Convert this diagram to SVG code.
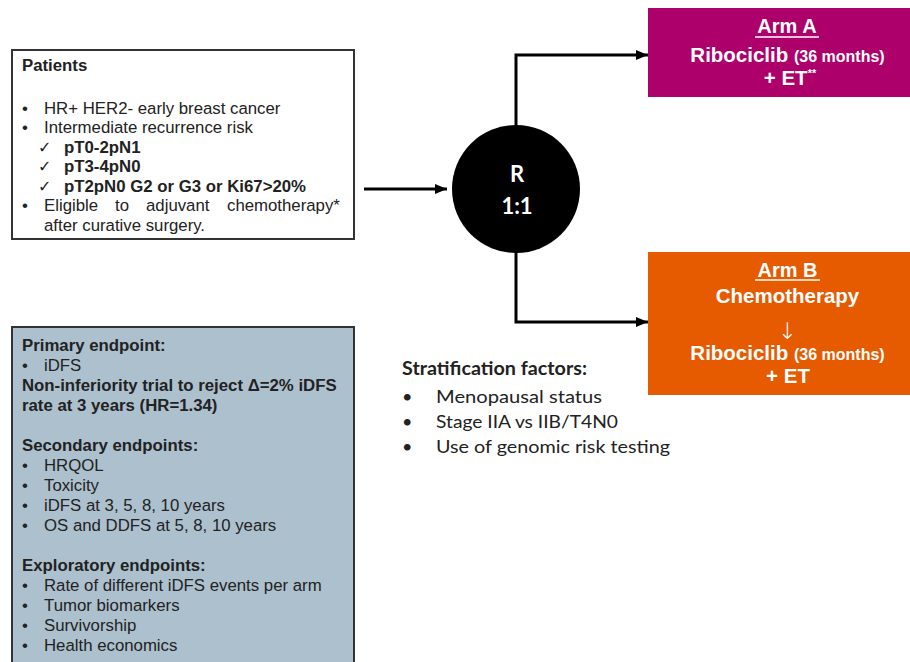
<svg xmlns="http://www.w3.org/2000/svg" width="910" height="662" viewBox="0 0 910 662">
<style>
  .t { font-family: "Liberation Sans", Arial, sans-serif; font-size: 16.8px; fill: #222; }
  .b { font-weight: bold; }
  .ck { font-family: "DejaVu Sans", sans-serif; font-size: 16px; }
  .w { font-family: "Liberation Sans", Arial, sans-serif; font-weight: bold; fill: #fff; text-anchor: middle; }
  .c { font-family: Lato, "Open Sans", sans-serif; fill: #222; font-size: 18px; }
  .conn { fill: none; stroke: #000; stroke-width: 3; }
  .box { stroke: #333; stroke-width: 2; }
</style>
<defs>
  <marker id="arr" markerUnits="userSpaceOnUse" markerWidth="12" markerHeight="12" refX="12" refY="6" orient="auto">
    <path d="M0,1 L12,6 L0,11 z" fill="#000"/>
  </marker>
</defs>
<rect x="0" y="0" width="910" height="662" fill="#fff"/>

<g id="patients">
  <rect class="box" x="12" y="50" width="342" height="189" fill="#fff"/>
  <text class="t b" x="22" y="71">Patients</text>
  <text class="t" x="22" y="113.5">•</text><text class="t" x="44" y="113.5">HR+ HER2- early breast cancer</text>
  <text class="t" x="22" y="133">•</text><text class="t" x="44" y="133">Intermediate recurrence risk</text>
  <text class="t ck" x="38" y="152.5">✓</text><text class="t b" x="64" y="152.5">pT0-2pN1</text>
  <text class="t ck" x="38" y="172">✓</text><text class="t b" x="64" y="172">pT3-4pN0</text>
  <text class="t ck" x="38" y="191.5">✓</text><text class="t b" x="64" y="191.5">pT2pN0 G2 or G3 or Ki67&gt;20%</text>
  <text class="t" x="22" y="211">•</text>
  <text class="t" y="211"><tspan x="44">Eligible</tspan><tspan x="115">to</tspan><tspan x="146">adjuvant</tspan><tspan x="227">chemotherapy*</tspan></text>
  <text class="t" x="44" y="230.5">after curative surgery.</text>
</g>

<g id="randomization">
  <circle cx="516" cy="189" r="64" fill="#000"/>
  <text x="517" y="182" font-family="Lato, 'Open Sans', sans-serif" font-weight="bold" font-size="22" fill="#fff" text-anchor="middle">R</text>
  <text x="517" y="214" font-family="Lato, 'Open Sans', sans-serif" font-weight="bold" font-size="22" fill="#fff" text-anchor="middle">1:1</text>
</g>

<g id="armA">
  <rect x="648" y="8" width="262" height="89" fill="#AE006B"/>
  <text class="w" x="787" y="33" font-size="20">Arm A</text>
  <line x1="755" y1="37" x2="819" y2="37" stroke="#fff" stroke-width="1.5"/>
  <text class="w" x="787.5" y="61.5" font-size="20.5">Ribociclib <tspan font-size="16">(36 months)</tspan></text>
  <text class="w" x="790" y="85" font-size="20.5">+ ET<tspan font-size="11" dy="-8">**</tspan></text>
</g>

<g id="armB">
  <rect x="648" y="252" width="262" height="143" fill="#E65A00"/>
  <text class="w" x="787.5" y="276.5" font-size="20">Arm B</text>
  <line x1="755" y1="280" x2="820" y2="280" stroke="#fff" stroke-width="1.5"/>
  <text class="w" x="787.5" y="303" font-size="20.5">Chemotherapy</text>
  <text x="787.5" y="339" font-family="'DejaVu Sans', sans-serif" font-size="23" font-weight="300" fill="#fff" text-anchor="middle">↓</text>
  <text class="w" x="787.5" y="360" font-size="20.5">Ribociclib <tspan font-size="16">(36 months)</tspan></text>
  <text class="w" x="788" y="383" font-size="20.5">+ ET</text>
</g>

<g id="endpoints">
  <rect class="box" x="12" y="327" width="342" height="345" fill="#ADC0CE"/>
  <text class="t b" x="22" y="351">Primary endpoint:</text>
  <text class="t" x="22" y="371">•</text><text class="t" x="44" y="371">iDFS</text>
  <text class="t b" x="22" y="391">Non-inferiority trial to reject Δ=2% iDFS</text>
  <text class="t b" x="22" y="411">rate at 3 years (HR=1.34)</text>
  <text class="t b" x="22" y="451">Secondary endpoints:</text>
  <text class="t" x="22" y="471">•</text><text class="t" x="44" y="471">HRQOL</text>
  <text class="t" x="22" y="491">•</text><text class="t" x="44" y="491">Toxicity</text>
  <text class="t" x="22" y="511">•</text><text class="t" x="44" y="511">iDFS at 3, 5, 8, 10 years</text>
  <text class="t" x="22" y="531">•</text><text class="t" x="44" y="531">OS and DDFS at 5, 8, 10 years</text>
  <text class="t b" x="22" y="571">Exploratory endpoints:</text>
  <text class="t" x="22" y="591">•</text><text class="t" x="44" y="591">Rate of different iDFS events per arm</text>
  <text class="t" x="22" y="611">•</text><text class="t" x="44" y="611">Tumor biomarkers</text>
  <text class="t" x="22" y="631">•</text><text class="t" x="44" y="631">Survivorship</text>
  <text class="t" x="22" y="651">•</text><text class="t" x="44" y="651">Health economics</text>
</g>

<g id="stratification">
  <text class="c" x="402" y="375" font-weight="bold" textLength="185" lengthAdjust="spacingAndGlyphs">Stratification factors:</text>
  <text class="c" x="402" y="403">•</text><text class="c" x="436" y="403" textLength="166" lengthAdjust="spacingAndGlyphs">Menopausal status</text>
  <text class="c" x="402" y="428">•</text><text class="c" x="436" y="428" textLength="182" lengthAdjust="spacingAndGlyphs">Stage IIA vs IIB/T4N0</text>
  <text class="c" x="402" y="453">•</text><text class="c" x="436" y="453" textLength="234" lengthAdjust="spacingAndGlyphs">Use of genomic risk testing</text>
</g>

<g id="connectors">
  <path class="conn" d="M364,189 H447" marker-end="url(#arr)"/>
  <path class="conn" d="M516,126 V55 H648" marker-end="url(#arr)"/>
  <path class="conn" d="M516,252 V322 H648" marker-end="url(#arr)"/>
</g>
</svg>
